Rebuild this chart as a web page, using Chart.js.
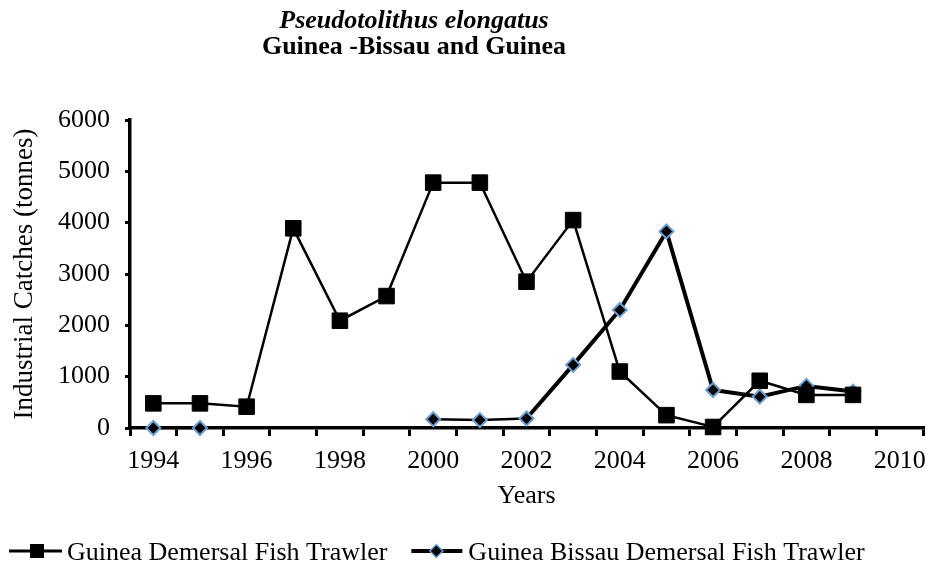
<!DOCTYPE html>
<html>
<head>
<meta charset="utf-8">
<script src="https://cdn.jsdelivr.net/npm/chart.js@4"></script>
<style>
  html, body { margin: 0; padding: 0; background: #fff; }
  #wrap { width: 935px; height: 572px; }
</style>
</head>
<body>
<div id="wrap"><canvas id="c" width="935" height="572"></canvas></div>
<script>
const years = ['1994','1995','1996','1997','1998','1999','2000','2001','2002','2003','2004','2005','2006','2007','2008','2009','2010'];
const guineaTrawler = [480, 480, 415, 3890, 2090, 2570, 4780, 4780, 2850, 4050, 1100, 250, 20, 920, 645, 645, null];
const bissauTrawler = [0, 0, null, null, null, null, 170, 155, 185, 1230, 2300, 3830, 740, 610, 820, 710, null];
const yTicks = [0, 1000, 2000, 3000, 4000, 5000, 6000];
const seriesNames = ['Guinea Demersal Fish Trawler', 'Guinea Bissau Demersal Fish Trawler'];
const titleLines = ['Pseudotolithus elongatus', 'Guinea -Bissau and Guinea'];

const SERIF = '"Liberation Serif", "Times New Roman", Times, serif';
const BLUE = '#6d9fd3';

const overlay = {
  id: 'overlay',
  afterDraw(chart) {
    const ctx = chart.ctx;
    ctx.save();
    // titles
    ctx.fillStyle = '#000';
    ctx.textAlign = 'center';
    ctx.textBaseline = 'alphabetic';
    ctx.font = 'italic bold 26px ' + SERIF;
    ctx.fillText(titleLines[0], 414, 28);
    ctx.font = 'bold 26px ' + SERIF;
    ctx.fillText(titleLines[1], 414, 54);

    // legend
    const ly = 551;
    ctx.font = '26px ' + SERIF;
    ctx.textAlign = 'left';
    ctx.textBaseline = 'middle';
    // item 1
    let x = 9;
    ctx.strokeStyle = '#000';
    ctx.lineWidth = 3;
    ctx.beginPath(); ctx.moveTo(x, ly); ctx.lineTo(x + 53, ly); ctx.stroke();
    ctx.fillStyle = '#000';
    ctx.fillRect(x + 28 - 7, ly - 7, 14, 14);
    ctx.fillText(seriesNames[0], x + 58, ly + 2);
    x = x + 58 + ctx.measureText(seriesNames[0]).width + 24;
    // item 2
    ctx.lineWidth = 4;
    ctx.beginPath(); ctx.moveTo(x, ly); ctx.lineTo(x + 51, ly); ctx.stroke();
    const dx = x + 25, r = 6.5;
    ctx.beginPath();
    ctx.moveTo(dx - r, ly); ctx.lineTo(dx, ly - r); ctx.lineTo(dx + r, ly); ctx.lineTo(dx, ly + r); ctx.closePath();
    ctx.fillStyle = '#000'; ctx.fill();
    ctx.lineWidth = 1.5; ctx.strokeStyle = BLUE; ctx.stroke();
    ctx.fillStyle = '#000';
    ctx.fillText(seriesNames[1], x + 57, ly + 2);
    ctx.restore();
  }
};

new Chart(document.getElementById('c'), {
  type: 'line',
  data: {
    labels: years,
    datasets: [
      {
        label: seriesNames[0],
        data: guineaTrawler,
        borderColor: '#000',
        backgroundColor: '#000',
        borderWidth: 2.5,
        pointStyle: 'rect',
        pointRadius: 11,
        pointHoverRadius: 11,
        pointBackgroundColor: '#000',
        pointBorderColor: '#000',
        pointBorderWidth: 1,
        tension: 0,
        spanGaps: false,
        clip: false
      },
      {
        label: seriesNames[1],
        data: bissauTrawler,
        borderColor: '#000',
        backgroundColor: '#000',
        borderWidth: 4,
        segment: {
          borderWidth: c => (c.p0DataIndex < 8 ? 2.5 : 4)
        },
        pointStyle: 'rectRot',
        pointRadius: 7,
        pointHoverRadius: 7,
        pointBackgroundColor: '#000',
        pointBorderColor: BLUE,
        pointBorderWidth: 2,
        tension: 0,
        spanGaps: false,
        clip: false
      }
    ]
  },
  options: {
    responsive: false,
    animation: false,
    devicePixelRatio: 1,
    layout: { padding: { left: 0, right: 6, top: 120, bottom: 60 } },
    plugins: {
      legend: { display: false },
      title: { display: false },
      tooltip: { enabled: false }
    },
    scales: {
      x: {
        type: 'category',
        offset: true,
        afterFit(s) {
          s.height = 84;
          s.paddingLeft = 0; s.paddingRight = 0;
          if (s._margins) { s._margins.right = 0; }
        },
        grid: {
          offset: true,
          display: true,
          drawOnChartArea: false,
          drawTicks: true,
          tickLength: 8,
          lineWidth: 3,
          color: '#000'
        },
        border: { display: true, color: '#000', width: 3.5 },
        ticks: {
          autoSkip: false,
          maxRotation: 0,
          minRotation: 0,
          padding: 0,
          color: '#000',
          font: { family: SERIF, size: 26, lineHeight: 1.92 },
          callback(val, idx) {
            const y = years[idx];
            return (parseInt(y, 10) % 2 === 0) ? y : '';
          }
        },
        title: {
          display: true,
          text: 'Years',
          color: '#000',
          padding: 0,
          font: { family: SERIF, size: 26 }
        }
      },
      y: {
        min: 0,
        max: 6000,
        afterFit(s) { s.width = 130; },
        afterBuildTicks(s) { s.ticks = yTicks.map(v => ({ value: v })); },
        grid: {
          display: true,
          drawOnChartArea: false,
          drawTicks: true,
          tickLength: 5,
          lineWidth: 3,
          color: '#000'
        },
        border: { display: true, color: '#000', width: 3.5 },
        ticks: {
          padding: 15,
          color: '#000',
          font: { family: SERIF, size: 26 },
          callback: v => String(v)
        },
        title: {
          display: true,
          text: 'Industrial Catches (tonnes)',
          color: '#000',
          padding: { top: 9, bottom: 0 },
          font: { family: SERIF, size: 27 }
        }
      }
    }
  },
  plugins: [overlay]
});
</script>
</body>
</html>
